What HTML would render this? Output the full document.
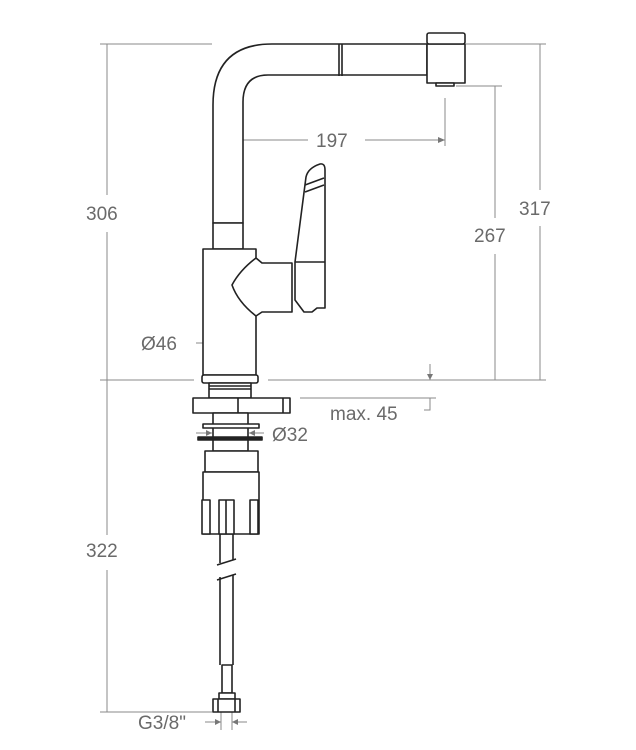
<!DOCTYPE html>
<html><head><meta charset="utf-8"><style>
html,body{margin:0;padding:0;background:#fff;}
svg{display:block;}
text{font-family:"Liberation Sans",sans-serif;fill:#6a6a6a;font-size:19px;}
</style></head><body>
<svg width="636" height="750" viewBox="0 0 636 750" xmlns="http://www.w3.org/2000/svg">
<g stroke="#8a8a8a" stroke-width="1" fill="none">
  <!-- extension lines -->
  <line x1="100" y1="44" x2="212" y2="44"/>
  <line x1="466" y1="44" x2="546" y2="44"/>
  <line x1="456" y1="86" x2="502" y2="86"/>
  <line x1="100" y1="380" x2="194" y2="380"/>
  <line x1="268" y1="380" x2="546" y2="380"/>
  <line x1="100" y1="712" x2="212" y2="712"/>
  <!-- verticals -->
  <line x1="107" y1="44" x2="107" y2="195"/>
  <line x1="107" y1="232" x2="107" y2="380"/>
  <line x1="107" y1="380" x2="107" y2="535"/>
  <line x1="107" y1="570" x2="107" y2="712"/>
  <line x1="540" y1="44" x2="540" y2="190"/>
  <line x1="540" y1="226" x2="540" y2="380"/>
  <line x1="495" y1="86" x2="495" y2="218"/>
  <line x1="495" y1="254" x2="495" y2="380"/>
  <!-- 197 -->
  <line x1="229" y1="130" x2="229" y2="162"/>
  <line x1="445" y1="98" x2="445" y2="146"/>
  <line x1="229" y1="140" x2="308" y2="140"/>
  <line x1="365" y1="140" x2="445" y2="140"/>
  <!-- 46 -->
  <line x1="196" y1="343" x2="256" y2="343"/>
  <!-- max 45 -->
  <line x1="300" y1="398" x2="436" y2="398"/>
  <path d="M430 398 V410 H424"/>
  <line x1="430" y1="364" x2="430" y2="380"/>
  <!-- 32 -->
  <line x1="196" y1="433" x2="212" y2="433"/>
  <line x1="249" y1="433" x2="264" y2="433"/>
  <!-- G3/8 -->
  <line x1="205" y1="722" x2="221" y2="722"/>
  <line x1="232" y1="722" x2="247" y2="722"/>
  <line x1="221" y1="712" x2="221" y2="730"/>
  <line x1="232" y1="712" x2="232" y2="730"/>
</g>
<g fill="#777">
  <path d="M229 140 l7 -3 v6z"/><path d="M445 140 l-7 -3 v6z"/>
  <path d="M204 343 l6 -3 v6z"/><path d="M256 343 l-6 -3 v6z"/>
  <path d="M212 433 l-6 -3 v6z"/><path d="M249 433 l6 -3 v6z"/>
  <path d="M221 722 l-6 -3 v6z"/><path d="M232 722 l6 -3 v6z"/>
  <path d="M430 380 l-3 -6 h6z"/>
</g>
<g stroke="#222" stroke-width="1.6" fill="#fff" stroke-linejoin="round">
  <!-- spout -->
  <path d="M213 223 V105 Q213 44 272 44 H427 V75 H268 Q243 75 243 102 V223 Z"/>
  <line x1="339" y1="44" x2="339" y2="76"/>
  <line x1="342" y1="44" x2="342" y2="76"/>
  <rect x="427" y="44" width="38" height="39"/>
  <rect x="427" y="33" width="38" height="11" rx="2"/>
  <rect x="436" y="83" width="18" height="3"/>
  <!-- collar -->
  <rect x="213" y="223" width="30" height="26"/>
  <!-- body -->
  <path d="M203 249 H256 V258 L262 263 H292 V312 H262 L256 316 V375 H203 Z"/>
  <path d="M256 258 Q240 270 232 285 Q238 302 256 316" fill="none"/>
  <!-- handle -->
  <path d="M295 262 L306 177 Q308 168 320 164 Q325 163 325 170 V308 H317 L312 312 H304 L295 300 Z"/>
  <line x1="295" y1="262" x2="325" y2="262"/>
  <line x1="305" y1="185" x2="324" y2="178"/>
  <line x1="305" y1="192" x2="324" y2="185"/>
  <!-- base -->
  <rect x="202" y="375" width="56" height="8" rx="2"/>
  <rect x="209" y="383" width="42" height="15"/>
  <line x1="209" y1="386" x2="251" y2="386"/>
  <line x1="209" y1="389" x2="251" y2="389"/>
  <rect x="193" y="398" width="97" height="15"/>
  <line x1="238" y1="398" x2="238" y2="413"/>
  <line x1="283" y1="398" x2="283" y2="413"/>
  <rect x="213" y="413" width="35" height="38"/>
  <rect x="203" y="424" width="56" height="4"/>
  <rect x="198" y="437" width="64" height="3" fill="#222"/>
  <rect x="205" y="451" width="53" height="21"/>
  <rect x="203" y="472" width="56" height="62"/>
  <rect x="202" y="500" width="8" height="34"/>
  <rect x="219" y="500" width="15" height="34"/>
  <line x1="226" y1="500" x2="226" y2="534"/>
  <rect x="250" y="500" width="8" height="34"/>
  <!-- hose -->
  <path d="M220 534 V563 M233 534 V560 M220 577 V665 M233 575 V665" fill="none"/>
  <line x1="217" y1="565" x2="236" y2="559"/>
  <line x1="217" y1="580" x2="236" y2="574"/>
  <rect x="222" y="665" width="10" height="28"/>
  <rect x="219" y="693" width="16" height="6"/>
  <rect x="213" y="699" width="27" height="13"/>
  <line x1="218" y1="699" x2="218" y2="712"/>
  <line x1="235" y1="699" x2="235" y2="712"/>
</g>
<text x="86" y="220">306</text>
<text x="86" y="557">322</text>
<text x="519" y="215">317</text>
<text x="474" y="242">267</text>
<text x="316" y="147">197</text>
<text x="141" y="350">Ø46</text>
<text x="330" y="420">max. 45</text>
<text x="272" y="441">Ø32</text>
<text x="138" y="729">G3/8"</text>
</svg>
</body></html>
